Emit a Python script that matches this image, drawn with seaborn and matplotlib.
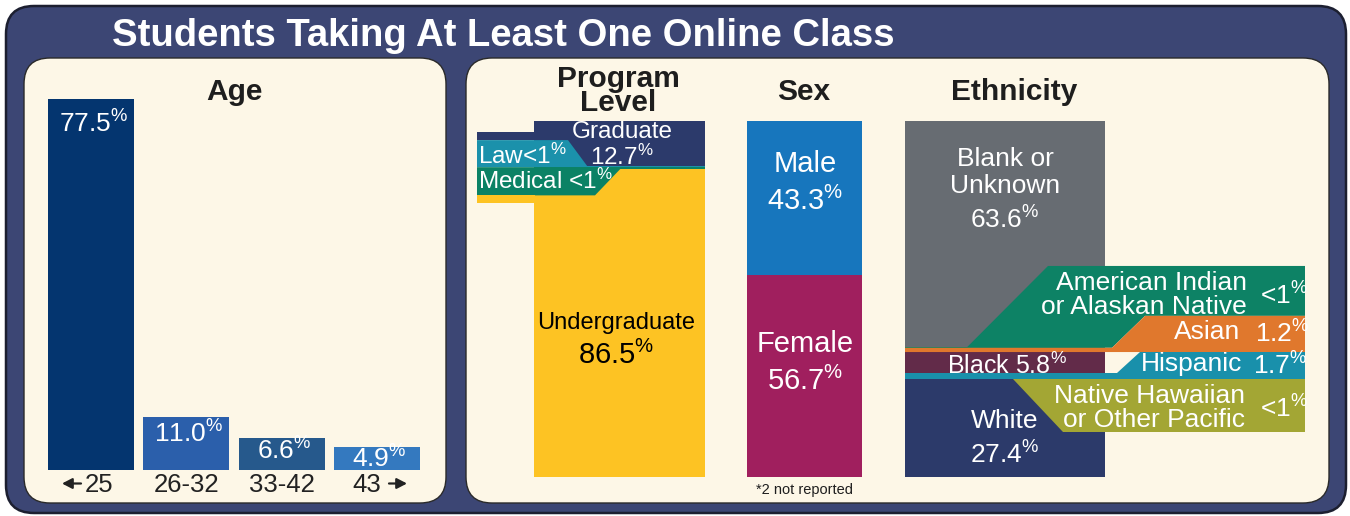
import matplotlib
matplotlib.use("Agg")
import matplotlib.pyplot as plt
from matplotlib import font_manager
from matplotlib.patches import FancyBboxPatch, Polygon
from matplotlib.transforms import ScaledTranslation
import seaborn as sns
import numpy as np

# ---- data ----
age_groups = ["\u219025", "26-32", "33-42", "43\u2192"]
age_pct = [77.5, 11.0, 6.6, 4.9]
age_text = ["77.5", "11.0", "6.6", "4.9"]

program_levels = ["Graduate", "Law", "Medical", "Undergraduate"]
program_pct = [12.7, 0.4, 0.4, 86.5]
program_text = ["12.7", "<1", "<1", "86.5"]

sexes = ["Male", "Female"]
sex_pct = [43.3, 56.7]
sex_text = ["43.3", "56.7"]

ethnicities = ["Blank or\nUnknown", "American Indian\nor Alaskan Native", "Asian", "Black",
               "Hispanic", "Native Hawaiian\nor Other Pacific", "White"]
eth_pct = [63.6, 0.15, 1.2, 5.8, 1.7, 0.15, 27.4]
eth_text = ["63.6", "<1", "1.2", "5.8", "1.7", "<1", "27.4"]

# ---- colours ----
navy_bg = "#3c4674"
cream = "#fdf7e7"
dark = "#1e1e1e"
age_colors = ["#04356f", "#2b5fab", "#26598c", "#3479bf"]
program_colors = ["#2c3a6b", "#1b91ab", "#0b8265", "#fdc323"]
sex_colors = ["#1776bd", "#a01f5e"]
eth_colors = ["#676c72", "#0d8265", "#e0782d", "#622b49", "#1990ab", "#a3a634", "#2c3a6a"]

sns.set_style("white")
plt.rcParams['font.family'] = ['Liberation Sans', 'DejaVu Sans']
plt.rcParams['mathtext.fontset'] = 'custom'
plt.rcParams['mathtext.rm'] = 'Liberation Sans'
plt.rcParams['mathtext.it'] = 'Liberation Sans:italic'
plt.rcParams['mathtext.bf'] = 'Liberation Sans:bold'

names = {f.name for f in font_manager.fontManager.ttflist}
if 'Liberation Sans Narrow' in names:
    title_font, title_size = 'Liberation Sans Narrow', 30
else:
    title_font, title_size = 'Liberation Sans', 27.5

W, H = 1350, 516
fig = plt.figure(figsize=(13.5, 5.16), dpi=100)
bg = fig.add_axes([0, 0, 1, 1])
bg.set_xlim(0, W)
bg.set_ylim(H, 0)
bg.axis('off')


def rbox(x0, y0, x1, y1, fc, ec, lw, r):
    bg.add_patch(FancyBboxPatch((x0, y0), x1 - x0, y1 - y0,
                                boxstyle=f"round,pad=0,rounding_size={r}",
                                fc=fc, ec=ec, lw=lw))


def px_axes(x0, y0, x1, y1):
    return fig.add_axes([x0 / W, 1 - y1 / H, (x1 - x0) / W, (y1 - y0) / H])


def pct(s):
    return s + r"$^{\%}$"


rbox(6, 6, 1346, 513, navy_bg, "#1c1f30", 1.8, 28)
rbox(24, 58, 446, 503, cream, "#2a2a2a", 1.0, 26)
rbox(466, 58, 1329, 503, cream, "#2a2a2a", 1.0, 26)

bg.text(112, 46, "Students Taking At Least One Online Class", ha='left', va='baseline',
        color='white', fontweight='bold', fontsize=title_size, family=[title_font, 'DejaVu Sans'])

head_size = 21.5

# ---- Age ----
bg.text(234, 92, "Age", ha='center', va='center', fontsize=head_size, fontweight='bold', color=dark)
ax_age = px_axes(43.33, 87.0, 424.67, 470)
sns.barplot(x=age_groups, y=age_pct, hue=age_groups, palette=age_colors, saturation=1,
            width=0.9, legend=False, ax=ax_age, linewidth=0)
ax_age.set(xlim=(-0.5, 3.5), ylim=(0, 80), yticks=[], xlabel='', ylabel='')
ax_age.patch.set_visible(False)
sns.despine(ax=ax_age, left=True, bottom=True)
ax_age.set_xticks(range(len(age_groups)))
ax_age.set_xticklabels([g.strip("\u2190\u2192") for g in age_groups])
ax_age.tick_params(axis='x', length=0, labelsize=18.5, labelcolor='#222222', pad=2)
for tl, dx in zip(ax_age.get_xticklabels(), [8.5, 0, 0, -10]):
    tl.set_transform(tl.get_transform() + ScaledTranslation(dx / 100, 0, fig.dpi_scale_trans))
# arrows of the open-ended age groups
arrow_kw = dict(arrowstyle='-|>,head_length=0.5,head_width=0.26', lw=1.6, color='#222222',
                shrinkA=0, shrinkB=0, mutation_scale=12)
ax_age.annotate("", xy=(62, 483.5), xytext=(81, 483.5), xycoords=bg.transData,
                textcoords=bg.transData, arrowprops=arrow_kw)
ax_age.annotate("", xy=(407, 483.5), xytext=(389, 483.5), xycoords=bg.transData,
                textcoords=bg.transData, arrowprops=arrow_kw)

age_drop = [18, 12, 9, 9]
for i, (v, t) in enumerate(zip(age_pct, age_text)):
    ax_age.annotate(pct(t), xy=(i, v), xytext=(2, -age_drop[i]), textcoords='offset points',
                    ha='center', va='center', color='white', fontsize=19)

# ---- right panel: stacked bars ----
ax_r = px_axes(466, 58, 1330, 503)
top0, pp = 120.5, 3.565
ax_r.set_xlim(466, 1330)
ax_r.set_ylim(100 + (503 - 477) / pp, -(top0 - 58) / pp)
ax_r.axis('off')


def stack(xc, width, vals, colors):
    vals = np.asarray(vals)
    bottoms = np.concatenate([[0], np.cumsum(vals)[:-1]])
    ax_r.bar([xc] * len(vals), vals, bottom=bottoms, width=width, color=colors, linewidth=0)
    return bottoms, bottoms + vals


def poly(pts, color):
    ax_r.add_patch(Polygon(pts, closed=True, fc=color, ec='none', zorder=3))


def lbl(x, y, s, size, color='white', ha='center', **kw):
    ax_r.text(x, y, s, transform=bg.transData, ha=ha, va='center', fontsize=size,
              color=color, zorder=5, **kw)


pt, pb = stack(619.5, 171, program_pct, program_colors)
st, sb = stack(804.5, 115, sex_pct, sex_colors)
et, eb = stack(1005, 200, eth_pct, eth_colors)

# program level callouts
box_t = pt[1] - 7.2
poly([(477, box_t - 2.3), (534.5, box_t - 2.3), (534.5, box_t), (477, box_t)], program_colors[0])
poly([(477, box_t), (568, box_t), (587, pt[1]), (587, pb[1]), (477, pb[1])], program_colors[1])
poly([(477, pt[2]), (622, pt[2]), (595, pt[2] + 7.9), (477, pt[2] + 7.9)], program_colors[2])
poly([(477, pt[2] + 7.9), (534.5, pt[2] + 7.9), (534.5, pt[2] + 10.1), (477, pt[2] + 10.1)],
     program_colors[3])

# ethnicity callouts
ai_box = et[1] - 22.8
as_box = et[1] - 8.8
poly([(967, et[1]), (1048, ai_box), (1305, ai_box), (1305, as_box), (1145, as_box),
      (1112, eb[1]), (967, eb[1])], eth_colors[1])
poly([(905, et[2]), (1112, et[2]), (1145, as_box), (1305, as_box), (1305, eb[2]), (905, eb[2])],
     eth_colors[2])
poly([(1140, eb[2]), (1305, eb[2]), (1305, eb[4]), (905, eb[4]), (905, et[4]), (1117, et[4])],
     eth_colors[4])
poly([(1013, et[5]), (1305, et[5]), (1305, et[5] + 14.8), (1063, et[5] + 14.8)], eth_colors[5])

# titles
bg.text(618, 91, "Program\nLevel", ha='center', va='center', fontsize=head_size, fontweight='bold',
        color=dark, linespacing=0.8)
bg.text(804, 92, "Sex", ha='center', va='center', fontsize=head_size, fontweight='bold', color=dark)
bg.text(1014, 92, "Ethnicity", ha='center', va='center', fontsize=head_size, fontweight='bold',
        color=dark)

# program labels
lbl(622, 132.5, program_levels[0], 17.5)
lbl(622, 157, pct(program_text[0]), 17.5)
lbl(478, 156, program_levels[1] + pct(program_text[1]), 17.5, ha='left')
lbl(478, 181, program_levels[2] + " " + pct(program_text[2]), 17.5, ha='left')
lbl(616, 323, program_levels[3], 17, color='black')
lbl(616, 355, pct(program_text[3]), 21, color='black')

# sex labels
lbl(805, 164, sexes[0], 21)
lbl(805, 201, pct(sex_text[0]), 21)
lbl(805, 344, sexes[1], 21)
lbl(805, 381, pct(sex_text[1]), 21)
lbl(805, 490, "*2 not reported", 10.5, color=dark)

# ethnicity labels
lbl(1005, 159, "Blank or", 19)
lbl(1005, 186, "Unknown", 19)
lbl(1005, 220, pct(eth_text[0]), 19)
lbl(1247, 295, ethnicities[1], 19, ha='right', linespacing=1.0)
lbl(1260, 296, pct(eth_text[1]), 19, ha='left')
lbl(1240, 332, ethnicities[2], 19, ha='right')
lbl(1255, 334, pct(eth_text[2]), 19, ha='left')
lbl(1007, 366, ethnicities[3] + " " + pct(eth_text[3]), 18)
lbl(1242, 364, ethnicities[4], 19, ha='right')
lbl(1253, 366, pct(eth_text[4]), 19, ha='left')
lbl(1245, 408, ethnicities[5], 19, ha='right', linespacing=1.0)
lbl(1260, 409, pct(eth_text[5]), 19, ha='left')
lbl(1005, 421, ethnicities[6], 19)
lbl(1005, 455, pct(eth_text[6]), 19)

fig.savefig("out.png", dpi=100)
